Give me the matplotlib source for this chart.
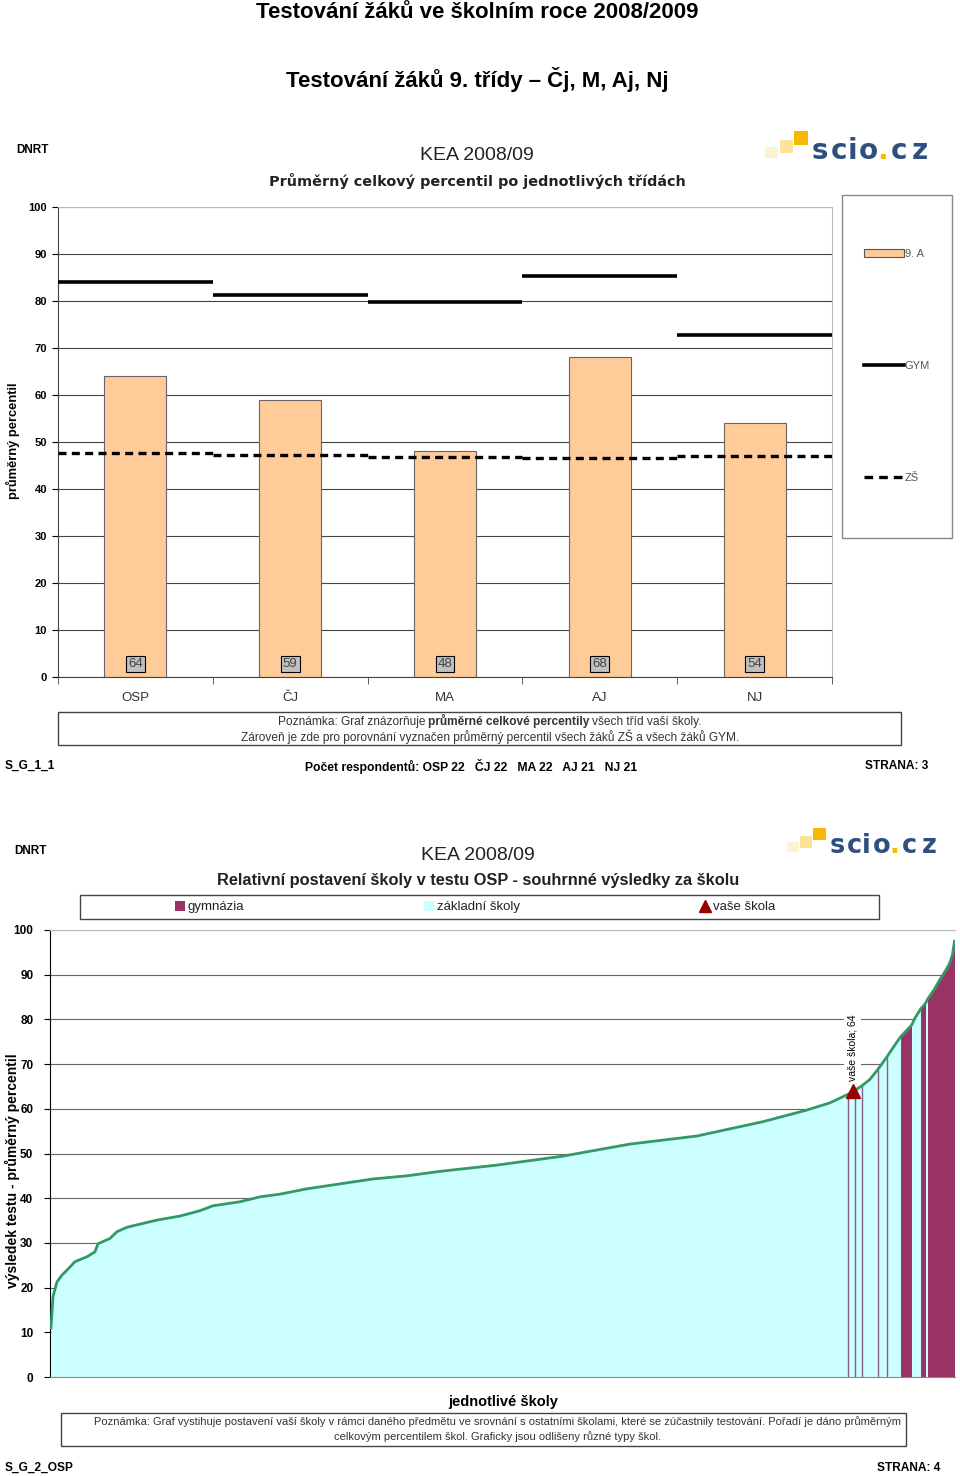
import numpy as np
import matplotlib
matplotlib.use("Agg")
from matplotlib import pyplot as plt
from matplotlib.patches import Rectangle, Patch
from matplotlib.lines import Line2D
from matplotlib.offsetbox import TextArea, HPacker, AnnotationBbox

plt.rcParams['font.family'] = ['Liberation Sans', 'DejaVu Sans']
NARROW = ['Liberation Sans Narrow', 'Liberation Sans', 'DejaVu Sans']

# --- page 3: class averages ---
subjects = ["OSP", "ČJ", "MA", "AJ", "NJ"]
class_pct = [64, 59, 48, 68, 54]           # 9. A
gym_pct = [84.0, 81.2, 79.7, 85.3, 72.8]   # GYM
zs_pct = [47.7, 47.2, 46.9, 46.7, 47.0]    # ZŠ
respondents = [22, 22, 22, 21, 21]

# --- page 4: schools ordered by OSP result ---
school_rank = [1, 3, 7, 12, 17, 25, 37, 45, 48, 60, 67, 77, 90, 107, 130, 150,
               163, 190, 210, 230, 257, 290, 323, 357, 390, 447, 513, 580, 647,
               713, 757, 780, 798, 803, 805, 812, 820, 828, 837, 843, 851, 862,
               866, 871, 876, 878, 885, 890, 895, 900, 903, 905]
school_pct = [11.0, 18.0, 21.3, 22.8, 23.9, 25.8, 26.9, 28.0, 29.8, 31.0, 32.5,
              33.5, 34.2, 35.1, 36.0, 37.2, 38.3, 39.2, 40.3, 40.9, 42.1, 43.2,
              44.3, 45.0, 46.0, 47.4, 49.4, 52.1, 53.9, 57.1, 59.7, 61.3, 63.2,
              63.8, 64.1, 65.1, 66.5, 68.7, 71.5, 73.5, 76.1, 78.7, 80.5, 82.3,
              83.6, 84.5, 86.8, 88.8, 90.5, 92.5, 94.5, 97.5]
gym_spans = [(798, 798), (805, 805), (812, 812), (828, 828), (837, 837),
             (851, 862), (871, 876), (878, 905)]
our_rank = 803
our_pct = 64

W, H = 960, 1476
fig = plt.figure(figsize=(W / 100, H / 100), dpi=100)

# page layer in pixel coordinates
page = fig.add_axes([0, 0, 1, 1], zorder=-1)
page.set_xlim(0, W)
page.set_ylim(H, 0)
page.axis("off")

page.text(477, 13, "Testování žáků ve školním roce 2008/2009", fontsize=16,
          fontweight="bold", ha="center", va="center")
page.text(477, 80, "Testování žáků 9. třídy – Čj, M, Aj, Nj", fontsize=16,
          fontweight="bold", ha="center", va="center")


def logo(x0, y0, s=1.0):
    # small squares
    page.add_patch(Rectangle((x0 - 45 * s, y0 - 3 * s), 13 * s, 11 * s, color="#FDF3D2", lw=0))
    page.add_patch(Rectangle((x0 - 30 * s, y0 - 10 * s), 13 * s, 13 * s, color="#FBE39A", lw=0))
    page.add_patch(Rectangle((x0 - 16 * s, y0 - 19 * s), 14 * s, 14 * s, color="#F6B800", lw=0))
    chars = ["s", "c", "i", "o", ".", "c", "z"]
    offs = [10, 29, 42, 58, 72, 89, 110]
    for ch, o in zip(chars, offs):
        page.text(x0 + o * s, y0 + 1 * s, ch, fontsize=20 * s, fontweight="bold",
                  family="DejaVu Sans", color="#F6B800" if ch == "." else "#2F4F7F",
                  ha="center", va="center")


def note_box(x0, y0, w, h, lines, cx, size):
    page.add_patch(Rectangle((x0, y0), w, h, facecolor="white", edgecolor="#444444", lw=1))
    for parts, y in lines:
        areas = [TextArea(t, textprops=dict(fontsize=size, family=NARROW, color="#333333",
                                            fontweight=("bold" if b else "normal")))
                 for t, b in parts]
        box = HPacker(children=areas, align="baseline", pad=0, sep=2)
        page.add_artist(AnnotationBbox(box, (cx, y), xycoords="data", frameon=False,
                                       box_alignment=(0.5, 0.5), pad=0))


# ---------------- chart 1 ----------------
page.text(16, 150, "DNRT", fontsize=8.5, fontweight="bold", ha="left", va="center")
page.text(477, 155, "KEA 2008/09", fontsize=14, ha="center", va="center", color="#222222")
page.text(477, 181, "Průměrný celkový percentil po jednotlivých třídách", fontsize=10.4,
          fontweight="bold", family="DejaVu Sans", ha="center", va="center", color="#222222")
logo(810, 150)

ax1 = fig.add_axes([58 / W, 1 - 677 / H, 774 / W, 470 / H])
x = np.arange(len(subjects))
ax1.bar(x, class_pct, width=0.4, color="#FFCC99", edgecolor="#666666", lw=0.8, zorder=2)
ax1.hlines(gym_pct, x - 0.5, x + 0.5, color="black", lw=2.6, zorder=3)
ax1.hlines(zs_pct, x - 0.5, x + 0.5, color="black", lw=2.4, linestyles=(0, (2.4, 1.6)), zorder=3)
for xi, v in zip(x, class_pct):
    ax1.text(xi, 2.7, str(v), ha="center", va="center", fontsize=9.5, family=NARROW,
             color="#444444", zorder=4,
             bbox=dict(boxstyle="square,pad=0.15", facecolor="#C0C0C0", edgecolor="black", lw=0.8))
ax1.set_xlim(-0.5, len(subjects) - 0.5)
ax1.set_ylim(0, 100)
ax1.set_yticks(range(0, 101, 10))
ax1.yaxis.grid(True, color="#444444", lw=0.8)
ax1.set_axisbelow(True)
ax1.set_xticks(x)
ax1.set_xticklabels(subjects, fontsize=9.5, family=NARROW, color="#333333")
ax1.set_xticks(np.arange(-0.5, len(subjects), 1), minor=True)
ax1.tick_params(axis="x", which="major", length=0, pad=11)
ax1.tick_params(axis="x", which="minor", length=5, color="#444444")
ax1.tick_params(axis="y", length=4, pad=4, labelsize=8)
for lb in ax1.get_yticklabels():
    lb.set_fontweight("bold")
ax1.spines["top"].set_color("#BBBBBB")
ax1.spines["right"].set_color("#BBBBBB")
ax1.spines["left"].set_color("#444444")
ax1.spines["bottom"].set_color("#444444")
page.text(13, 441, "průměrný percentil", rotation=90, fontsize=9.3, fontweight="bold",
          ha="center", va="center")

page.add_patch(Rectangle((842, 195), 110, 343, fill=False, edgecolor="#888888", lw=1))
handles1 = [Patch(facecolor="#FFCC99", edgecolor="#555555", lw=0.8),
            Line2D([], [], color="black", lw=2.6),
            Line2D([], [], color="black", lw=2.4, ls=(0, (2.6, 1.8)))]
ax1.legend(handles1, ["9. A", "GYM", "ZŠ"], loc="upper left",
           bbox_to_anchor=(858 / W, 1 - 243 / H), bbox_transform=fig.transFigure,
           frameon=False, fontsize=8, labelcolor="#555555", handlelength=3.6,
           handleheight=0.7, handletextpad=0.1, labelspacing=9.2, borderpad=0)

note_box(58, 712, 843, 33,
         [([("Poznámka: Graf znázorňuje", False), ("průměrné celkové percentily", True),
            ("všech tříd vaší školy.", False)], 721),
          ([("Zároveň je zde pro porovnání vyznačen průměrný percentil všech žáků ZŠ a všech žáků GYM.", False)], 737)],
         490, 8.6)

page.text(5, 766, "S_G_1_1", fontsize=8.6, fontweight="bold", ha="left", va="center")
resp_txt = "Počet respondentů: " + "   ".join(f"{s} {n}" for s, n in zip(subjects, respondents))
page.text(305, 766, resp_txt, fontsize=8.7, fontweight="bold", ha="left", va="center")
page.text(928, 766, "STRANA: 3", fontsize=8.6, fontweight="bold", ha="right", va="center")

# ---------------- chart 2 ----------------
page.text(14, 851, "DNRT", fontsize=8.5, fontweight="bold", ha="left", va="center")
page.text(478, 856, "KEA 2008/09", fontsize=14, ha="center", va="center", color="#222222")
page.text(478, 881, "Relativní postavení školy v testu OSP - souhrnné výsledky za školu",
          fontsize=11.8, fontweight="bold", ha="center", va="center", color="#222222")
logo(828, 845, 0.92)

rank = np.array(school_rank)
pct = np.array(school_pct)
ax2 = fig.add_axes([50 / W, 99 / H, 905 / W, 447 / H])
ax2.fill_between(rank, pct, color="#CCFFFF", lw=0, zorder=1)
for r0, r1 in gym_spans:
    if r0 == r1:
        ax2.vlines(r0, 0, pct[rank == r0][0], color="#8A5A82", lw=1.0, zorder=2)
    else:
        m = (rank >= r0) & (rank <= r1)
        ax2.fill_between(rank[m], pct[m], color="#993366", lw=0, zorder=2)
ax2.plot(rank, pct, color="#339966", lw=2, zorder=3)
ax2.plot(our_rank, our_pct, marker="^", ms=10, color="#990000", zorder=4, ls="none")
ax2.text(our_rank, 73.6, f"vaše škola; {our_pct}", rotation=90, fontsize=7.5, family=NARROW,
         ha="center", va="center", zorder=4,
         bbox=dict(boxstyle="square,pad=0.3", facecolor="white", edgecolor="none"))
ax2.set_xlim(0, 905.5)
ax2.set_ylim(0, 100)
ax2.set_yticks(range(0, 101, 10))
ax2.yaxis.grid(True, color="#666666", lw=0.8)
ax2.set_axisbelow(True)
ax2.set_xticks([])
ax2.tick_params(axis="y", length=4, pad=8, labelsize=8.5)
for lb in ax2.get_yticklabels():
    lb.set_fontweight("bold")
ax2.spines["top"].set_color("#BBBBBB")
ax2.spines["right"].set_visible(False)
ax2.spines["left"].set_color("black")
ax2.spines["bottom"].set_color("#888888")
page.text(12, 1171, "výsledek testu - průměrný percentil", rotation=90, fontsize=10,
          fontweight="bold", ha="center", va="center")

page.add_patch(Rectangle((80, 895), 799, 24, fill=False, edgecolor="#444444", lw=1))
handles2 = [Patch(facecolor="#993366"), Patch(facecolor="#CCFFFF"),
            Line2D([], [], marker="^", color="#990000", ls="none", ms=8)]
ax2.legend(handles2, ["gymnázia", "základní školy", "vaše škola"], loc="center left",
           bbox_to_anchor=(168 / W, 1 - 907 / H), bbox_transform=fig.transFigure,
           ncol=3, frameon=False, labelcolor="#222222",
           prop=dict(family=NARROW, size=9.5), handlelength=0.8, handleheight=0.8,
           handletextpad=0.2, columnspacing=13.6, borderpad=0)

page.text(503, 1402, "jednotlivé školy", fontsize=10.5, fontweight="bold", ha="center", va="center")
note_box(61, 1413, 845, 33,
         [([("Poznámka: Graf vystihuje postavení vaší školy v rámci daného předmětu ve srovnání s ostatními školami, "
             "které se zúčastnily testování. Pořadí je dáno průměrným", False)], 1422),
          ([("celkovým percentilem škol. Graficky jsou odlišeny různé typy škol.", False)], 1437)],
         497, 8)

page.text(5, 1468, "S_G_2_OSP", fontsize=8.6, fontweight="bold", ha="left", va="center")
page.text(940, 1468, "STRANA: 4", fontsize=8.6, fontweight="bold", ha="right", va="center")

fig.savefig("out.png", dpi=100)
